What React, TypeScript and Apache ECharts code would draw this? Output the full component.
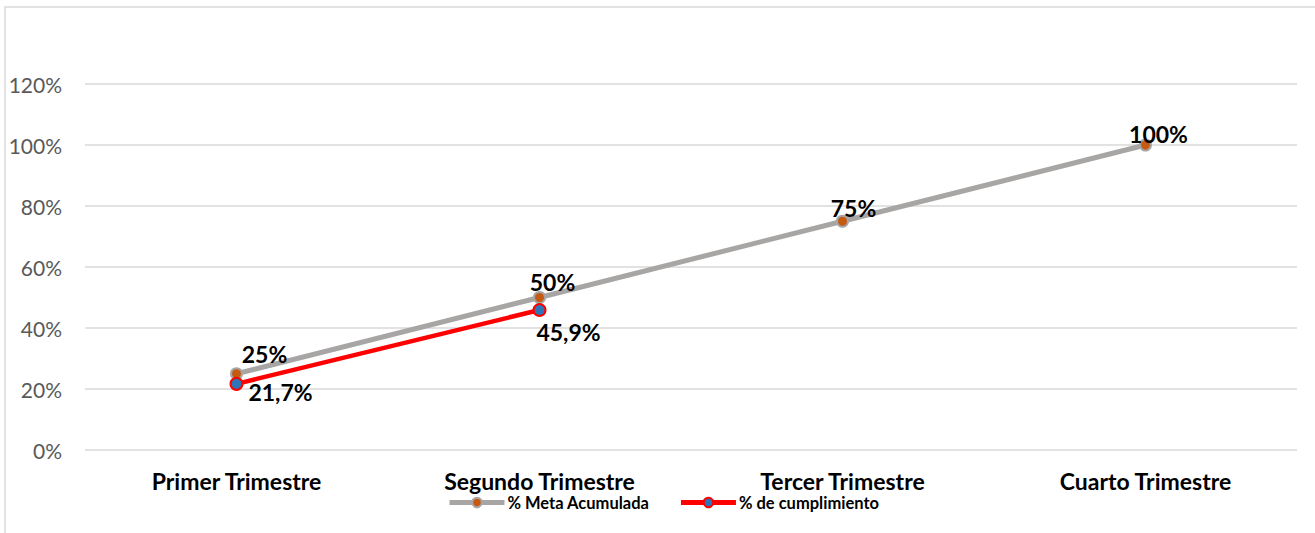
import React, { useEffect, useRef } from "react";
import * as echarts from "echarts";

const categories = ["Primer Trimestre", "Segundo Trimestre", "Tercer Trimestre", "Cuarto Trimestre"];
const metaAcumulada = [0.25, 0.5, 0.75, 1.0];
const cumplimiento: (number | null)[] = [0.217, 0.459, null, null];
const yTicks = [0, 0.2, 0.4, 0.6, 0.8, 1.0, 1.2];
const seriesNames = ["% Meta Acumulada", "% de cumplimiento"];

const metaLabelOffsets = [[28, -20], [13, -16], [11, -13], [13, -11]];
const cumpLabelOffsets = [[44, 8], [29, 22]];

const FONT = "Lato, 'Noto Sans', sans-serif";

export default function App() {
  const ref = useRef<HTMLDivElement>(null);
  useEffect(() => {
    if (!ref.current) return;
    const chart = echarts.init(ref.current, null, { renderer: "svg" });
    const labelBase = {
      show: true,
      position: "inside",
      color: "#000",
      fontWeight: "bold",
      fontSize: 23,
      fontFamily: FONT,
    };
    chart.setOption({
      animation: false,
      backgroundColor: "#fff",
      graphic: [
        {
          type: "rect",
          shape: { x: 5, y: 7, width: 1400, height: 600 },
          style: { fill: "none", stroke: "#D9D9D9", lineWidth: 1.5 },
          silent: true,
        },
      ],
      grid: { left: 85, right: 18, top: 84, bottom: 83, containLabel: false },
      legend: {
        bottom: 17,
        left: 442,
        itemWidth: 55,
        itemHeight: 12,
        itemGap: 29,
        lineStyle: { width: 5 },
        textStyle: { fontFamily: FONT, fontWeight: "bold", fontSize: 16.5, color: "#000", padding: [0, 0, 0, -2] },
        data: seriesNames,
      },
      xAxis: {
        type: "category",
        data: categories,
        boundaryGap: true,
        axisLine: { show: false },
        axisTick: { show: false },
        axisLabel: {
          margin: 19,
          fontFamily: FONT,
          fontWeight: "bold",
          fontSize: 23,
          color: "#000",
        },
      },
      yAxis: {
        type: "value",
        min: yTicks[0],
        max: yTicks[yTicks.length - 1],
        interval: 0.2,
        axisLine: { show: false },
        axisTick: { show: false },
        splitLine: { lineStyle: { color: "#D9D9D9", width: 1.5 } },
        axisLabel: {
          margin: 23,
          fontFamily: FONT,
          fontSize: 21,
          color: "#595959",
          formatter: (v: number) => `${Math.round(v * 100)}%`,
        },
      },
      series: [
        {
          name: seriesNames[0],
          type: "line",
          z: 2,
          data: metaAcumulada.map((v, i) => ({
            value: v,
            label: { ...labelBase, offset: metaLabelOffsets[i] },
          })),
          symbol: "circle",
          symbolSize: 11,
          lineStyle: { color: "#A8A5A5", width: 5 },
          itemStyle: { color: "#C55A11", borderColor: "#A8A5A5", borderWidth: 2 },
          label: {
            ...labelBase,
            formatter: (p: any) => `${Math.round(p.value * 100)}%`,
          },
        },
        {
          name: seriesNames[1],
          type: "line",
          z: 3,
          data: cumplimiento.map((v, i) =>
            v == null
              ? null
              : { value: v, label: { ...labelBase, offset: cumpLabelOffsets[i] } }
          ),
          symbol: "circle",
          symbolSize: 12,
          lineStyle: { color: "#FF0000", width: 4.5 },
          itemStyle: { color: "#2E75B6", borderColor: "#FF0000", borderWidth: 2 },
          label: {
            ...labelBase,
            formatter: (p: any) => `${(p.value * 100).toFixed(1).replace(".", ",")}%`,
          },
        },
      ],
    });
    return () => chart.dispose();
  }, []);
  return (
    <div
      ref={ref}
      style={{ position: "fixed", left: 0, top: 0, width: 1315, height: 533, background: "#fff" }}
    />
  );
}
